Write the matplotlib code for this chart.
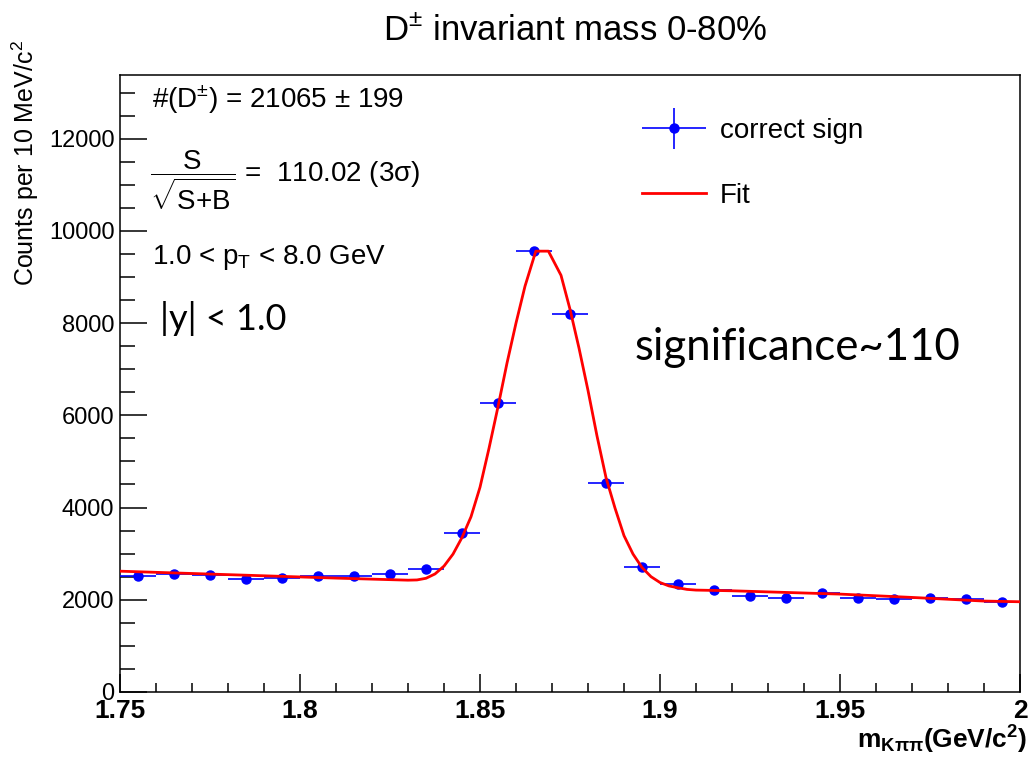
import numpy as np
import matplotlib
matplotlib.use("Agg")
import matplotlib.pyplot as plt
from matplotlib.container import ErrorbarContainer
from matplotlib.legend_handler import HandlerErrorbar
from matplotlib.ticker import MultipleLocator

# histogram: D+- candidates, 10 MeV bins
bin_centers = [1.755, 1.765, 1.775, 1.785, 1.795, 1.805, 1.815, 1.825, 1.835, 1.845,
               1.855, 1.865, 1.875, 1.885, 1.895, 1.905, 1.915, 1.925, 1.935, 1.945,
               1.955, 1.965, 1.975, 1.985, 1.995]
counts = [2520, 2557, 2535, 2449, 2477, 2513, 2513, 2564, 2658, 3438,
          6262, 9556, 8190, 4529, 2716, 2333, 2210, 2087, 2030, 2152,
          2044, 2008, 2044, 2008, 1957]
count_errors = [50, 51, 50, 49, 50, 50, 50, 51, 52, 59,
                79, 98, 90, 67, 52, 48, 47, 46, 45, 46,
                45, 45, 45, 45, 44]
half_bin = 0.005

# fit curve
fit_mass = [1.750, 1.770, 1.790, 1.810, 1.830, 1.8325, 1.835, 1.8375, 1.840, 1.8425,
            1.845, 1.8475, 1.850, 1.8525, 1.855, 1.8575, 1.860, 1.8625, 1.8655,
            1.869, 1.8725, 1.875, 1.8775, 1.880, 1.8825, 1.885, 1.8875, 1.890,
            1.8925, 1.895, 1.8975, 1.900, 1.9025, 1.905, 1.9075, 1.910, 1.920,
            1.950, 1.970, 1.990, 2.000]
fit_counts = [2620, 2570, 2520, 2470, 2425, 2430, 2466, 2560, 2730, 2990,
              3350, 3800, 4440, 5284, 6185, 7132, 8000, 8800, 9560,
              9560, 9037, 8300, 7458, 6540, 5552, 4650, 3989, 3390,
              2992, 2700, 2501, 2374, 2300, 2260, 2225, 2210, 2195,
              2123, 2051, 1972, 1957]

W, H = 1032, 760
plt.rcParams['font.family'] = ['Liberation Sans', 'DejaVu Sans']
plt.rcParams['mathtext.fontset'] = 'custom'
plt.rcParams['mathtext.rm'] = 'Liberation Sans'
plt.rcParams['mathtext.it'] = 'Liberation Sans:italic'
plt.rcParams['mathtext.bf'] = 'Liberation Sans:bold'
plt.rcParams['mathtext.sf'] = 'Liberation Sans'

fig = plt.figure(figsize=(W / 100, H / 100), dpi=100)
ax = fig.add_axes([120 / W, 1 - 692 / H, 900 / W, 617 / H])


def fx(px):
    return px / W


def fy(py):
    return 1 - py / H


data = ax.errorbar(bin_centers, counts, xerr=half_bin, yerr=count_errors,
                   fmt='o', color='#0000ff', ecolor='#0000ff', markersize=6.5,
                   elinewidth=1.2, capsize=0, label='correct sign', zorder=3)
fit_line, = ax.plot(fit_mass, fit_counts, color='#ff0000', lw=2.0, label='Fit', zorder=4)

ax.set_xlim(1.75, 2.0)
ax.set_ylim(0, 13380)
ax.xaxis.set_major_locator(MultipleLocator(0.05))
ax.xaxis.set_minor_locator(MultipleLocator(0.01))
ax.yaxis.set_major_locator(MultipleLocator(2000))
ax.yaxis.set_minor_locator(MultipleLocator(500))
ax.set_xticks([1.75, 1.8, 1.85, 1.9, 1.95, 2.0])
ax.set_xticklabels(['1.75', '1.8', '1.85', '1.9', '1.95', '2'], fontweight='bold')
ax.tick_params(axis='x', which='major', direction='in', length=13.3, width=1.1,
               labelsize=19, pad=5)
ax.tick_params(axis='x', which='minor', direction='in', length=6.5, width=1.1)
ax.tick_params(axis='y', which='major', direction='in', length=19.4, width=1.1,
               labelsize=17, pad=4)
ax.tick_params(axis='y', which='minor', direction='in', length=10.8, width=1.1)
for s in ax.spines.values():
    s.set_linewidth(1.1)

ax.legend(handles=[data, fit_line], loc='upper left',
          bbox_to_anchor=(fx(642), fy(118)), bbox_transform=fig.transFigure,
          frameon=False, fontsize=20, numpoints=1, handlelength=2.3,
          handletextpad=0.5, labelspacing=1.4, borderaxespad=0, borderpad=0,
          handler_map={ErrorbarContainer: HandlerErrorbar(xerr_size=1.15, yerr_size=0.74)})

# title and axis labels
fig.text(fx(575), fy(30), r'D$^{\pm}$ invariant mass 0-80%', fontsize=25,
         ha='center', va='center')
fig.text(fx(25), fy(40), r'Counts per 10 MeV/c$^{2}$', fontsize=18,
         rotation=90, ha='center', va='top')
fig.text(fx(1027), fy(740), r'm$_{\mathbf{K\pi\pi}}$(GeV/c$^{\mathbf{2}}$)', fontsize=19,
         fontweight='bold', ha='right', va='center')

# annotations
fig.text(fx(152), fy(100), r'#(D$^{\pm}$) = 21065 $\pm$ 199', fontsize=20,
         ha='left', va='center')
fig.text(fx(150), fy(180), r'$\dfrac{\mathrm{S}}{\sqrt{\mathrm{S{+}B}}}$ =  110.02 (3σ)',
         fontsize=20, ha='left', va='center')
fig.text(fx(152), fy(257), r'1.0 < p$_{\mathrm{T}}$ < 8.0 GeV', fontsize=20,
         ha='left', va='center')
fig.text(fx(160), fy(318), '|y| < 1.0', family=['Lato', 'DejaVu Sans'], fontsize=26,
         ha='left', va='center')
fig.text(fx(635), fy(348), 'significance~110', family=['Lato', 'DejaVu Sans'],
         fontsize=31.5, ha='left', va='center')

fig.savefig('out.png', dpi=100)
